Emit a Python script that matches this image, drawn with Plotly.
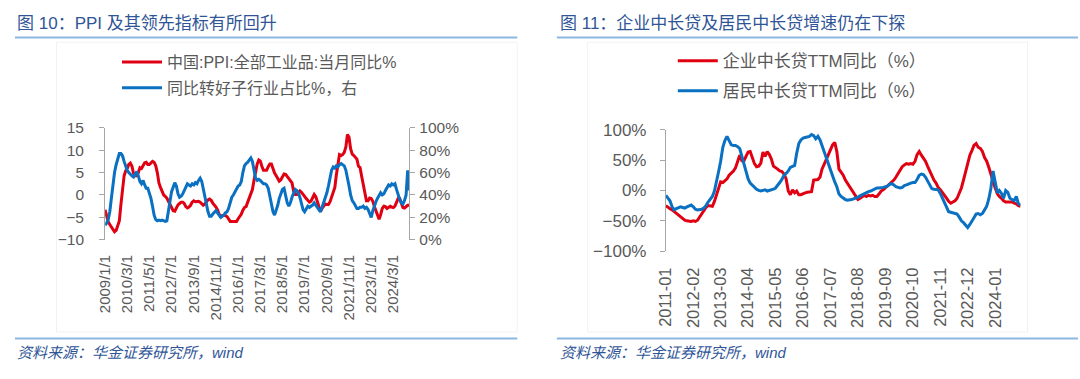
import pandas as pd
import plotly.graph_objects as go

W, H = 1080, 379
FONT = "Liberation Sans, Arial, Noto Sans CJK SC, sans-serif"
RED = "#E00012"
BLUE = "#0A70C2"
GRAY_TXT = "#595959"
AXIS = "#A6A6A6"
TITLE_BLUE = "#2F5597"
RULE = "#8DB6E0"

# ---------------- data: left chart (monthly, 2009-01 .. 2025-01) ----------------
ppi_yoy = [
    -3.3, -4.5, -6.0, -6.6, -7.2, -7.8, -8.2, -7.9, -7.0, -5.8, -2.1, 1.7,
    4.3, 5.4, 5.9, 6.8, 7.1, 6.4, 4.8, 4.3, 4.3, 5.0, 6.1, 5.9,
    6.6, 7.2, 7.3, 6.8, 6.8, 7.1, 7.5, 7.3, 6.5, 5.0, 2.7, 1.7,
    0.7, 0.0, -0.3, -0.7, -1.4, -2.1, -2.9, -3.5, -3.6, -2.8, -2.2, -1.9,
    -1.6, -1.6, -1.9, -2.6, -2.9, -2.7, -2.3, -1.6, -1.3, -1.5, -1.4, -1.4,
    -1.6, -2.0, -2.3, -2.0, -1.4, -1.1, -0.9, -1.2, -1.8, -2.2, -2.7, -3.3,
    -4.3, -4.8, -4.6, -4.6, -4.6, -4.8, -5.4, -5.9, -5.9, -5.9, -5.9, -5.9,
    -5.3, -4.9, -4.3, -3.4, -2.8, -2.6, -1.7, -0.8, 0.1, 1.2, 3.3, 5.5,
    6.9, 7.8, 7.6, 6.4, 5.5, 5.5, 5.5, 6.3, 6.9, 6.9, 5.8, 4.9,
    4.3, 3.7, 3.1, 3.4, 4.1, 4.7, 4.6, 4.1, 3.6, 3.3, 2.7, 0.9,
    0.1, 0.1, 0.4, 0.9, 0.6, 0.0, -0.3, -0.8, -1.2, -1.6, -1.4, -0.5,
    0.1, -0.4, -1.5, -3.1, -3.7, -3.0, -2.4, -2.0, -2.1, -2.1, -1.5, -0.4,
    0.3, 1.7, 4.4, 6.8, 9.0, 8.8, 9.0, 9.5, 10.7, 13.5, 12.9, 10.3,
    9.1, 8.8, 8.3, 8.0, 6.4, 6.1, 4.2, 2.3, 0.9, -1.3, -1.3, -0.7,
    -0.8, -1.4, -2.5, -3.6, -4.6, -5.4, -4.4, -3.0, -2.5, -2.6, -3.0, -2.7,
    -2.5, -2.7, -2.8, -2.5, -1.4, -0.8, -0.8, -1.8, -2.8, -2.9, -2.5, -2.3,
    -2.3,
]

improving_share = [
    13, 15, 18, 25, 37, 50, 60, 67, 73, 77, 77, 75,
    70, 65, 62, 60, 58, 57, 56, 59, 61, 57, 52, 50,
    53, 49, 46, 46, 42, 37, 30, 22, 18, 17, 17.5, 17,
    17.5, 17, 16.5, 17, 25, 35, 43, 47, 51, 48, 41, 38,
    39, 41, 44, 47, 50, 49, 48, 50, 49, 51, 50, 53,
    55, 52, 45, 38, 30, 25, 21, 21, 23, 25, 26, 24,
    22, 20, 21, 22, 24, 25, 28, 33, 38, 40, 43, 46,
    48, 49, 52, 60, 66, 68, 69, 71, 73, 70, 63, 55,
    53, 54, 53, 51, 50, 50, 49, 46, 39, 33, 25, 22, 26,
    31, 37, 42, 45, 46, 40, 33, 30, 33, 38, 42, 45,
    44, 42, 38, 33, 27, 25, 28, 30, 29, 30, 31, 33,
    31, 28, 26, 25, 29, 33, 37, 42, 48, 55, 62, 65,
    64, 66, 65, 67, 68, 67, 66, 62, 56, 48, 40, 35,
    33, 30, 28, 28, 29, 29, 30, 28, 29, 27, 24, 20,
    26, 31, 34, 37, 40, 42, 40, 41, 44, 47, 49, 48,
    50, 49, 50, 45, 40, 36, 33, 32, 35, 40, 62, 44,
]

left_tick_labels = ["2009/1/1", "2010/3/1", "2011/5/1", "2012/7/1", "2013/9/1",
                    "2014/11/1", "2016/1/1", "2017/3/1", "2018/5/1", "2019/7/1",
                    "2020/9/1", "2021/11/1", "2023/1/1", "2024/3/1"]

# ---------------- data: right chart (monthly, 2011-01 .. 2025-01) ----------------
corp_mlt_loan_ttm = [
    -25, -28, -30, -32, -35, -38, -41, -44, -47, -49, -50, -51,
    -51, -50, -51, -49, -44, -38, -32, -28, -25, -25, -26, -18,
    -8, 2, 14, 13, 16, 19, 25, 28, 32, 37, 49, 58,
    49, 49, 56, 63, 64, 53, 44, 39, 40, 45, 63, 56,
    64, 59, 52, 40, 38, 35, 32, 31, 27, 19, -1, -7,
    1, -4, -1, -7, -7, -5, -4, -3, -2, -2, 17, 17,
    18, 22, 35, 43, 51, 57, 66, 75, 79, 64, 35, 31,
    25, 17, 12, 8, 1, -4, -10, -15, -13, -10, -8, -10,
    -8, -9, -8, -10, -10, -6, -1, 1, 4, 8, 11, 13,
    17, 22, 28, 33, 39, 42, 44, 43, 44, 43, 48, 59,
    64, 58, 53, 48, 40, 32, 23, 17, 12, 5, 1, -3,
    -8, -13, -18, -21, -19, -17, -13, -5, 4, 17, 30, 43,
    58, 66, 74, 77, 71, 69, 64, 54, 48, 38, 25, 14,
    4, -5, -10, -13, -17, -19, -19, -19, -19, -21, -22, -25,
    -26,
]

house_mlt_loan_ttm = [
    -8, -12, -17, -27, -32, -30, -28, -27, -28, -29, -27, -26,
    -24, -27, -31, -32, -32, -31, -29, -25, -19, -15, -10, -1,
    14, 32, 48, 71, 82, 89, 82, 75, 74, 74, 72, 69,
    56, 43, 30, 19, 12, 8, 5, 2, 0, -1, 0, 1,
    -1, 0, 0, 2, 4, 8, 13, 18, 25, 28, 32, 38,
    40, 41, 61, 77, 83, 86, 87, 88, 89, 92, 90, 85,
    89, 83, 74, 61, 51, 42, 32, 22, 14, 6, -6, -10,
    -13, -15, -16, -16, -15, -14, -13, -11, -9, -7, -5, -4,
    -2, -1, 1, 3, 4, 4, 4, 5, 6, 7, 10, 11,
    9, 6, 5, 4, 5, 8, 9, 11, 12, 13, 13, 18,
    25, 27, 26, 22, 15, 8, 3, 2, 2, 1, -5, -13,
    -22, -30, -35, -36, -37, -38, -39, -44, -50, -53, -57, -61,
    -56, -51, -45, -39, -38, -40, -38, -32, -26, -14, 4, 32,
    14, -4, 0, -5, -13, 0, -3, -13, -15, -17, -10, -22,
    -24,
]

right_tick_labels = ["2011-01", "2012-02", "2013-03", "2014-04", "2015-05",
                     "2016-06", "2017-07", "2018-08", "2019-09", "2020-10",
                     "2021-11", "2022-12", "2024-01"]

# ---------------- dates ----------------
left_dates = pd.date_range("2009-01-01", periods=len(ppi_yoy), freq="MS")
right_dates = pd.date_range("2011-01-01", periods=len(corp_mlt_loan_ttm), freq="MS")
left_tickvals = [pd.to_datetime(s, format="%Y/%m/%d") for s in left_tick_labels]
right_tickvals = [pd.to_datetime(s, format="%Y-%m") for s in right_tick_labels]


def px_x(p):
    return p / W


def px_y(p):
    return 1 - p / H


# plot areas (pixels)
L_X0, L_X1, L_Y0, L_Y1 = 96, 403, 125, 243
R_X0, R_X1, R_Y0, R_Y1 = 662, 1020, 127, 255

fig = go.Figure()
fig.add_trace(go.Scatter(x=left_dates, y=ppi_yoy, mode="lines",
                         name="中国:PPI:全部工业品:当月同比%",
                         line=dict(color=RED, width=3),
                         xaxis="x", yaxis="y", legend="legend", legendgroup="a"))
fig.add_trace(go.Scatter(x=left_dates, y=improving_share, mode="lines",
                         name="同比转好子行业占比%，右",
                         line=dict(color=BLUE, width=3),
                         xaxis="x", yaxis="y2", legend="legend", legendgroup="b"))
fig.add_trace(go.Scatter(x=right_dates, y=corp_mlt_loan_ttm, mode="lines",
                         name="企业中长贷TTM同比（%）",
                         line=dict(color=RED, width=3),
                         xaxis="x2", yaxis="y3", legend="legend2", legendgroup="c"))
fig.add_trace(go.Scatter(x=right_dates, y=house_mlt_loan_ttm, mode="lines",
                         name="居民中长贷TTM同比（%）",
                         line=dict(color=BLUE, width=3),
                         xaxis="x2", yaxis="y3", legend="legend2", legendgroup="d"))

l_dom_y = [px_y(L_Y1), px_y(L_Y0)]
r_dom_y = [px_y(R_Y1), px_y(R_Y0)]
l_zero_pos = l_dom_y[0] + (0 - (-10)) / 25 * (l_dom_y[1] - l_dom_y[0])
r_zero_pos = r_dom_y[0] + 0.5 * (r_dom_y[1] - r_dom_y[0])

tickfont_l = dict(family=FONT, size=15.5, color=GRAY_TXT)
tickfont_lx = dict(family=FONT, size=15, color=GRAY_TXT)
tickfont_r = dict(family=FONT, size=17, color=GRAY_TXT)
tickfont_rx = dict(family=FONT, size=16.5, color=GRAY_TXT)

fig.update_layout(
    width=W, height=H,
    margin=dict(l=0, r=0, t=0, b=0),
    paper_bgcolor="white", plot_bgcolor="white",
    font=dict(family=FONT, color=GRAY_TXT),
    showlegend=True,
    xaxis=dict(domain=[px_x(L_X0), px_x(L_X1)], anchor="y", type="date",
               range=[left_dates[0], left_dates[-1]],
               tickvals=left_tickvals, ticktext=left_tick_labels, tickangle=-90,
               ticks="", showline=False, showgrid=False, zeroline=False,
               tickfont=tickfont_lx, ticklabelstandoff=11),
    xaxis3=dict(overlaying="x", anchor="free", position=l_zero_pos, type="date",
                range=[left_dates[0], left_dates[-1]], tickvals=left_tickvals,
                showticklabels=False, ticks="outside", ticklen=5, tickcolor=AXIS,
                showline=True, linecolor=AXIS, linewidth=1, showgrid=False,
                zeroline=False, layer="below traces"),
    yaxis=dict(domain=l_dom_y, anchor="x", range=[-10, 15], dtick=5,
               showline=True, linecolor=AXIS, ticks="outside", ticklen=5,
               tickcolor=AXIS, showgrid=False, zeroline=False, tickfont=tickfont_l,
               ticklabelstandoff=12),
    yaxis2=dict(overlaying="y", side="right", anchor="x", range=[0, 100], dtick=20,
                ticksuffix="%", showline=True, linecolor=AXIS, ticks="outside",
                ticklen=5, tickcolor=AXIS, showgrid=False, zeroline=False,
                tickfont=tickfont_l, ticklabelstandoff=1),
    xaxis2=dict(domain=[px_x(R_X0), px_x(R_X1)], anchor="y3", type="date",
                range=[right_dates[0], right_dates[-1]],
                tickvals=right_tickvals, ticktext=right_tick_labels, tickangle=-90,
                ticks="", showline=False, showgrid=False, zeroline=False,
                tickfont=tickfont_rx, ticklabelstandoff=12),
    xaxis4=dict(overlaying="x2", anchor="free", position=r_zero_pos, type="date",
                range=[right_dates[0], right_dates[-1]], tickvals=right_tickvals,
                showticklabels=False, ticks="outside", ticklen=5, tickcolor=AXIS,
                showline=True, linecolor=AXIS, linewidth=1, showgrid=False,
                zeroline=False, layer="below traces"),
    yaxis3=dict(domain=r_dom_y, anchor="x2", range=[-100, 100], dtick=50,
                ticksuffix="%", showline=True, linecolor=AXIS, ticks="outside",
                ticklen=5, tickcolor=AXIS, showgrid=False, zeroline=False,
                tickfont=tickfont_r, ticklabelstandoff=10),
    legend=dict(x=px_x(108), y=px_y(38), xanchor="left", yanchor="top",
                bgcolor="rgba(0,0,0,0)", font=dict(family=FONT, size=16, color=GRAY_TXT),
                traceorder="grouped", tracegroupgap=2, itemwidth=40),
    legend2=dict(x=px_x(669), y=px_y(36), xanchor="left", yanchor="top",
                 bgcolor="rgba(0,0,0,0)", font=dict(family=FONT, size=17, color=GRAY_TXT),
                 traceorder="grouped", tracegroupgap=5, itemwidth=40),
)

shapes = []
# title rules and bottom rules
for x0, x1 in [(5, 512), (552, 1078)]:
    shapes.append(dict(type="line", xref="paper", yref="paper",
                       x0=px_x(x0), x1=px_x(x1), y0=px_y(30), y1=px_y(30),
                       line=dict(color=RULE, width=2)))
    shapes.append(dict(type="line", xref="paper", yref="paper",
                       x0=px_x(x0), x1=px_x(x1), y0=px_y(347), y1=px_y(347),
                       line=dict(color=RULE, width=2)))
# faint chart frames
for x0, x1 in [(47, 512), (583, 1027)]:
    shapes.append(dict(type="rect", xref="paper", yref="paper",
                       x0=px_x(x0), x1=px_x(x1), y0=px_y(340), y1=px_y(35),
                       line=dict(color="#F2F2F2", width=1), layer="below"))
fig.update_layout(shapes=shapes)

annotations = [
    dict(text="图 10：PPI 及其领先指标有所回升", x=px_x(5), y=px_y(15)),
    dict(text="图 11：企业中长贷及居民中长贷增速仍在下探", x=px_x(553), y=px_y(15)),
]
for a in annotations:
    a.update(xref="paper", yref="paper", xanchor="left", yanchor="middle",
             showarrow=False, font=dict(family=FONT, size=17, color=TITLE_BLUE))
for xx in [5, 553]:
    annotations.append(dict(text="<i>资料来源：华金证券研究所，wind</i>",
                            x=px_x(xx), y=px_y(362), xref="paper", yref="paper",
                            xanchor="left", yanchor="middle", showarrow=False,
                            font=dict(family=FONT, size=15, color=TITLE_BLUE)))
fig.update_layout(annotations=annotations)

fig.write_html("out.html", config={"displayModeBar": False},
               post_script=["document.body.style.margin='0';document.body.style.overflow='hidden';"])
